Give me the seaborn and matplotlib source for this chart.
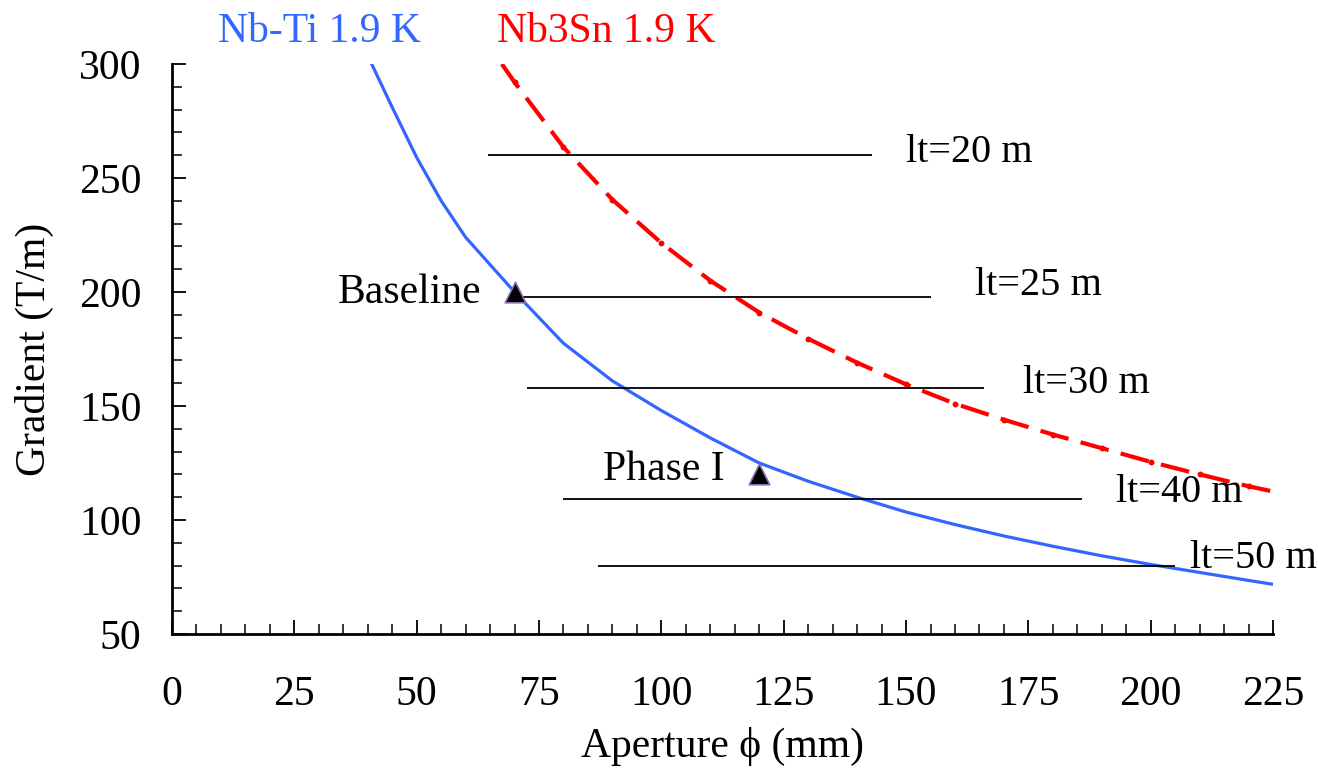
import matplotlib
matplotlib.use("Agg")
import matplotlib.pyplot as plt
import seaborn as sns
import pandas as pd
from matplotlib.ticker import MultipleLocator

# ---- data ----
nbti_aperture = [40.8, 45, 50, 55, 60, 70, 80, 90, 100, 110, 120, 130, 140, 150, 160, 170, 180, 190, 200, 210, 220, 225]
nbti_gradient = [300, 281, 259, 240, 224, 200, 177.5, 161, 148, 136, 125, 117, 110, 103.5, 98, 93, 88.5, 84.3, 80.5, 77, 73.5, 71.8]

nb3sn_aperture = [67.4, 70, 80, 90, 100, 110, 120, 130, 140, 150, 160, 170, 180, 190, 200, 210, 220, 225]
nb3sn_gradient = [300, 292, 263.5, 240.5, 221.5, 205, 191, 179.5, 169, 159.5, 151, 144, 137.5, 131.5, 125.5, 120, 114.8, 112.5]
nb3sn_dot_aperture = [70, 80, 90, 100, 110, 120, 130, 140, 150, 160, 170, 180, 190, 200, 210, 220]
nb3sn_dot_gradient = [292, 263.5, 240.5, 221.5, 205, 191, 179.5, 169, 159.5, 151, 144, 137.5, 131.5, 125.5, 120, 114.8]

lt_labels = ["lt=20 m", "lt=25 m", "lt=30 m", "lt=40 m", "lt=50 m"]
lt_gradient = [260, 198, 158, 109, 80]
lt_start = [64.5, 70, 72.5, 80, 87]
lt_end = [143, 155, 166, 186, 205]
lt_label_x = [150, 164, 174, 193, 208]
lt_label_y = [261, 203, 160, 112, 83]

point_names = ["Baseline", "Phase I"]
point_aperture = [70, 120]
point_gradient = [200, 120]

sns.set_theme(style="ticks")
plt.rcParams["font.family"] = ["Liberation Serif", "DejaVu Serif"]
plt.rcParams["mathtext.fontset"] = "stix"
for k in ["text.color", "axes.labelcolor", "xtick.color", "ytick.color", "axes.edgecolor"]:
    plt.rcParams[k] = "black"

fig = plt.figure(figsize=(13.18, 7.7), dpi=100)
ax = fig.add_axes([0.1305, 0.1766, 0.8354, 0.7403])

blue = "#3366ff"
red = "#ff0000"
FS = 30

df_ti = pd.DataFrame({"a": nbti_aperture, "g": nbti_gradient})
df_sn = pd.DataFrame({"a": nb3sn_aperture, "g": nb3sn_gradient})
df_dot = pd.DataFrame({"a": nb3sn_dot_aperture, "g": nb3sn_dot_gradient})

sns.lineplot(data=df_ti, x="a", y="g", ax=ax, color=blue, lw=2.3, sort=True, estimator=None)
sns.lineplot(data=df_sn, x="a", y="g", ax=ax, color=red, lw=3, sort=True, estimator=None)
ax.lines[-1].set_dashes((7, 3))
sns.scatterplot(data=df_dot, x="a", y="g", ax=ax, color=red, s=18, linewidth=0, zorder=4)

for y, x0, x1, lab, lx, ly in zip(lt_gradient, lt_start, lt_end, lt_labels, lt_label_x, lt_label_y):
    ax.hlines(y, x0, x1, color="black", lw=1.3, zorder=2)
    ax.text(lx, ly, lab, fontsize=29, va="center", ha="left")

df_pts = pd.DataFrame({"a": point_aperture, "g": point_gradient, "n": point_names})
sns.scatterplot(data=df_pts, x="a", y="g", ax=ax, marker="^", color="black",
                edgecolor="#8a6fb0", linewidth=1.2, s=220, zorder=5)
ax.text(63.3, 199.5, "Baseline", fontsize=FS, va="center", ha="right")
ax.text(88, 122, "Phase I", fontsize=FS, va="center", ha="left")

ax.set_xlim(0, 225)
ax.set_ylim(50, 300)
ax.xaxis.set_major_locator(MultipleLocator(25))
ax.xaxis.set_minor_locator(MultipleLocator(5))
ax.yaxis.set_major_locator(MultipleLocator(50))
ax.yaxis.set_minor_locator(MultipleLocator(10))
ax.tick_params(axis="both", which="major", direction="in", length=10, width=1.3,
               labelsize=FS, color="black", labelcolor="black")
ax.tick_params(axis="both", which="minor", direction="in", length=7, width=1.1, color="black")
ax.tick_params(axis="x", which="major", pad=30)
ax.tick_params(axis="y", which="major", pad=22)

for side in ["top", "right"]:
    ax.spines[side].set_visible(False)
for side in ["left", "bottom"]:
    ax.spines[side].set_linewidth(2)
    ax.spines[side].set_color("black")

ax.set_xlabel("Aperture ϕ (mm)", fontsize=FS, labelpad=9)
ax.set_ylabel("Gradient (T/m)", fontsize=FS, labelpad=18)

fig.text(218 / 1318, 1 - 32 / 770, "Nb-Ti 1.9 K", color=blue, fontsize=FS, va="center", ha="left")
fig.text(497 / 1318, 1 - 32 / 770, "Nb3Sn 1.9 K", color=red, fontsize=FS, va="center", ha="left")

fig.savefig("out.png", dpi=100)
